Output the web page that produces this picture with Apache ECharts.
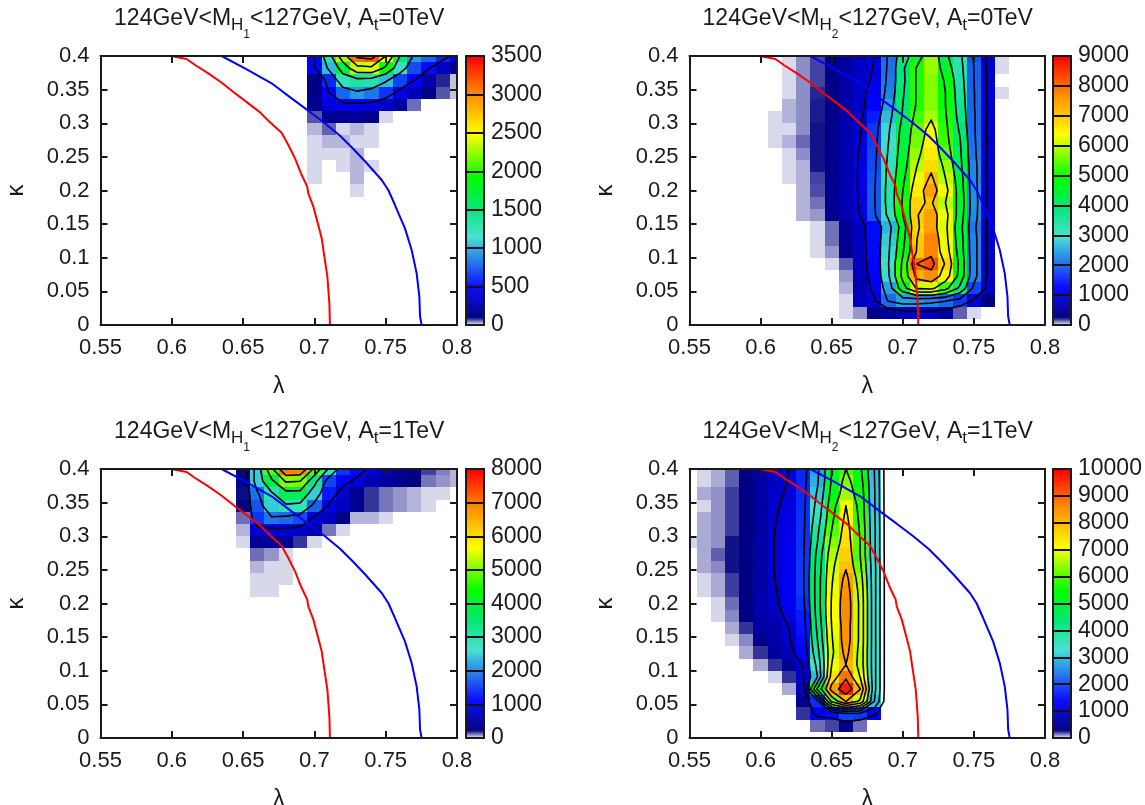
<!DOCTYPE html>
<html>
<head>
<meta charset="utf-8">
<style>
	html, body { margin: 0; padding: 0; background: #fff; }
	#chart { width: 1145px; height: 805px; }
</style>
<script src="https://cdn.jsdelivr.net/npm/echarts@6/dist/echarts.min.js"></script>
</head>
<body>
<div id="chart"></div>
<script>
// every row is [kappa row index, first lambda column, counts...]
// column i is lambda = 0.55 + 0.01 i, row k is kappa = k * 0.4 / 22
const h1At0Rows = [
	[22, 15, 500, 1300, 2300, 3100, 3200, 2500, 1500, 950, 800, 600, 420],
	[21, 15, 480, 1050, 1700, 2350, 2400, 1900, 1200, 720, 520, 300, 180],
	[20, 15, 120, 620, 1250, 1350, 1300, 1050, 700, 500, 230, 90, 25],
	[19, 15, 130, 490, 800, 950, 850, 650, 420, 280, 140, 70, 25],
	[18, 15, 130, 380, 430, 430, 400, 320, 200, 60],
	[17, 15, 70, 170, 180, 180, 130, 16],
	[16, 15, 30, 65, 16, 30, 16],
	[15, 15, 16, 30, 30, 16, 16],
	[14, 15, 16, 16, 16, 30],
	[13, 15, 16, 0, 16, 30, 16],
	[12, 15, 16, 0, 0, 30],
	[11, 18, 16],
]
const h2At0Rows = [
	[22, 7, 40, 120, 200, 300, 550, 780, 1000, 2100, 3600, 4500, 5800, 4200, 3200, 1900, 800, 40],
	[21, 7, 40, 120, 200, 320, 550, 800, 1030, 2150, 3850, 5100, 5800, 4550, 3300, 2000, 850, 40],
	[20, 7, 40, 120, 200, 320, 560, 820, 1080, 2200, 3800, 5100, 5700, 4900, 3400, 2000, 880],
	[19, 7, 40, 120, 230, 340, 580, 850, 1200, 2300, 3900, 5100, 5700, 5000, 3500, 2050, 900, 40],
	[18, 7, 80, 120, 240, 350, 600, 880, 1300, 2500, 4000, 5100, 5700, 5000, 3600, 2050, 900],
	[17, 6, 40, 80, 120, 240, 350, 620, 900, 1500, 2700, 4100, 5300, 5900, 5100, 3700, 2100, 900],
	[16, 6, 40, 40, 120, 250, 360, 640, 950, 1700, 2900, 4300, 5500, 6300, 5200, 3900, 2100, 880],
	[15, 6, 40, 80, 160, 250, 360, 640, 1000, 1750, 3000, 4400, 5600, 6500, 5300, 4100, 2150, 880],
	[14, 7, 40, 120, 250, 360, 650, 1050, 1800, 3100, 4500, 5800, 6600, 5500, 4200, 2200, 900],
	[13, 7, 40, 80, 250, 380, 660, 1070, 1850, 3200, 4600, 6000, 6800, 5800, 4300, 2300, 900],
	[12, 7, 40, 80, 200, 380, 670, 1080, 1900, 3250, 4800, 6300, 7150, 6000, 4500, 2300, 900],
	[11, 8, 80, 190, 390, 680, 1080, 1950, 3300, 5000, 6600, 7500, 6300, 4600, 2350, 900],
	[10, 8, 80, 150, 400, 680, 1050, 1950, 3300, 5100, 6870, 7100, 6000, 4700, 2400, 900],
	[9, 8, 80, 110, 400, 650, 1020, 1900, 3200, 5000, 6950, 7500, 6300, 4600, 2350, 900],
	[8, 9, 40, 150, 450, 800, 1350, 2650, 4500, 6900, 7500, 6200, 4400, 2200, 850],
	[7, 9, 40, 150, 430, 780, 1350, 2800, 4700, 7000, 7800, 6300, 4500, 2300, 850],
	[6, 9, 40, 110, 400, 760, 1350, 2900, 4900, 7100, 7800, 6500, 4600, 2300, 850],
	[5, 10, 40, 170, 740, 1300, 3000, 5200, 8020, 8300, 6900, 4800, 2300, 850],
	[4, 11, 110, 700, 1250, 2900, 5300, 7300, 7700, 6500, 4700, 2300, 850],
	[3, 11, 80, 620, 1150, 2500, 4600, 6100, 6200, 5300, 3800, 1800, 800],
	[2, 11, 40, 800, 950, 2100, 2500, 2450, 2300, 2100, 1700, 900, 280],
	[1, 11, 40, 110, 350, 500, 700, 850, 800, 500, 170, 40],
]
const h1At1Rows = [
	[22, 10, 300, 2500, 4800, 7000, 6900, 4800, 2900, 1500, 1200, 900, 600, 350, 280, 180, 120, 70],
	[21, 10, 350, 2500, 3800, 5100, 5000, 3300, 1600, 1150, 900, 600, 500, 350, 240, 130, 100, 70],
	[20, 10, 230, 1900, 2900, 3700, 3700, 2500, 1300, 800, 350, 190, 130, 100, 70, 37, 37],
	[19, 10, 240, 1700, 2500, 2900, 2800, 1800, 950, 700, 350, 190, 130, 100, 70, 37],
	[18, 10, 136, 1500, 1950, 1850, 1650, 900, 700, 300, 70, 70, 37],
	[17, 10, 70, 800, 850, 850, 750, 500, 130, 37],
	[16, 10, 37, 400, 400, 350, 190, 37],
	[15, 11, 136, 100, 37],
	[14, 11, 70, 37, 37],
	[13, 11, 37, 37, 37],
	[12, 11, 37, 37],
]
const h2At1Rows = [
	[22, 1, 48, 100, 190, 340, 600, 850, 1000, 1750, 2800, 5000, 6000, 5200, 3000],
	[21, 1, 48, 100, 190, 340, 600, 900, 1020, 1750, 2900, 5100, 6300, 5400, 3050],
	[20, 1, 100, 130, 230, 340, 600, 920, 1050, 1780, 3100, 5300, 6500, 5600, 3100],
	[19, 1, 48, 130, 230, 340, 600, 950, 1100, 1800, 3300, 5600, 7000, 5700, 3100],
	[18, 1, 100, 130, 230, 340, 600, 980, 1150, 1820, 3500, 5800, 7200, 5800, 3150],
	[17, 1, 100, 130, 230, 340, 600, 1000, 1200, 1830, 3800, 6000, 7400, 5900, 3200],
	[16, 0, 48, 100, 130, 280, 340, 620, 1020, 1250, 1850, 4000, 6300, 7500, 6000, 3200],
	[15, 1, 100, 190, 280, 340, 620, 1020, 1300, 1880, 4300, 6600, 7700, 6000, 3200],
	[14, 1, 100, 140, 280, 340, 620, 1020, 1300, 1900, 4400, 6800, 7900, 6200, 3300],
	[13, 1, 48, 100, 230, 340, 620, 1000, 1320, 1900, 4500, 6900, 8300, 6500, 3300],
	[12, 1, 48, 100, 230, 340, 620, 950, 1320, 1900, 4500, 7000, 8500, 6700, 3300],
	[11, 2, 48, 170, 340, 700, 900, 1300, 1800, 4500, 7100, 8600, 6800, 3300],
	[10, 2, 48, 140, 340, 650, 800, 1150, 1650, 4400, 7100, 8600, 6800, 3300],
	[9, 3, 100, 240, 600, 700, 1000, 1600, 4200, 7000, 8500, 6800, 3300],
	[8, 3, 48, 140, 380, 650, 950, 1500, 4000, 6900, 8500, 6800, 3300],
	[7, 4, 100, 240, 550, 800, 1400, 3700, 6800, 8300, 6700, 3300],
	[6, 5, 100, 240, 500, 1050, 3300, 7000, 8000, 6700, 3300],
	[5, 6, 48, 240, 950, 3000, 7450, 8840, 6970, 3300],
	[4, 7, 100, 800, 5200, 8350, 9700, 8030, 3300],
	[3, 8, 450, 1800, 6200, 8030, 6800, 3000],
	[2, 8, 240, 1300, 1500, 2000, 1900, 1200],
	[1, 9, 170, 220, 450, 170],
]

const h1At0Levels = [500, 1000, 1500, 2000, 2500, 3000]
const h2At0Levels = [1000, 2000, 3000, 4000, 5000, 6000, 7000, 8000]
const h1At1Levels = [1000, 2000, 3000, 4000, 5000, 6000, 7000]
const h2At1Levels = [1000, 2000, 3000, 4000, 5000, 6000, 7000, 8000, 9000]

const redLambda = [0.6, 0.6022, 0.6104, 0.6163, 0.6256, 0.635, 0.6443, 0.6537, 0.6619, 0.6677, 0.677, 0.6817, 0.6864, 0.6911, 0.695, 0.6957, 0.6993, 0.7021, 0.7051, 0.707, 0.7091, 0.7105, 0.7109]
const redKappa = [0.4, 0.399, 0.3955, 0.3866, 0.3742, 0.3603, 0.3445, 0.3296, 0.3162, 0.3038, 0.286, 0.2677, 0.2478, 0.223, 0.2057, 0.1958, 0.176, 0.1536, 0.1289, 0.1016, 0.0719, 0.0322, 0]
const blueLambda = [0.6349, 0.6513, 0.67, 0.684, 0.6957, 0.7074, 0.718, 0.727, 0.7358, 0.7472, 0.7518, 0.7565, 0.7635, 0.7682, 0.7717, 0.7736, 0.7741, 0.7752]
const blueKappa = [0.4, 0.3817, 0.3594, 0.337, 0.3187, 0.2999, 0.2815, 0.2625, 0.2428, 0.2156, 0.2007, 0.1784, 0.1437, 0.1115, 0.0768, 0.0421, 0.0124, 0]

const paletteStops = [
	[0, 255, 255, 255], [0.03, 0, 0, 128], [0.143, 0, 0, 255], [0.286, 40, 170, 225], [0.33, 64, 224, 208],
	[0.43, 0, 230, 120], [0.55, 0, 255, 0], [0.71, 255, 255, 0], [0.86, 255, 140, 0], [1, 255, 0, 0],
]

const panels = [
	{ rows: h1At0Rows, levels: h1At0Levels, max: 3500, step: 500, name: "H", sub: "1", at: "0", left: 100.5, width: 356.5, top: 56, bar: 466 },
	{ rows: h2At0Rows, levels: h2At0Levels, max: 9000, step: 1000, name: "H", sub: "2", at: "0", left: 689.5, width: 355.5, top: 56, bar: 1053 },
	{ rows: h1At1Rows, levels: h1At1Levels, max: 8000, step: 1000, name: "H", sub: "1", at: "1", left: 100.5, width: 356.5, top: 469, bar: 466 },
	{ rows: h2At1Rows, levels: h2At1Levels, max: 10000, step: 1000, name: "H", sub: "2", at: "1", left: 689.5, width: 355.5, top: 469, bar: 1053 },
]

const PLOT_H = 269
const BAR_W = 18
const KAPPA_BIN = 0.4 / 22
const LAMBDA_BIN = 0.01
const FONT = "'Liberation Sans', Arial, sans-serif"
const INK = "#1a1a1a"

function paletteColor(f) {
	f = Math.max(0, Math.min(1, f))
	for (let i = 1; i < paletteStops.length; i++) {
		const a = paletteStops[i - 1]
		const b = paletteStops[i]
		if (f <= b[0]) {
			const t = (f - a[0]) / (b[0] - a[0])
			const mix = (n) => Math.round(a[n] + (b[n] - a[n]) * t)
			return "rgb(" + mix(1) + "," + mix(2) + "," + mix(3) + ")"
		}
	}
	return "rgb(255,0,0)"
}

function toMatrix(rows) {
	const m = []
	for (let k = 0; k <= 22; k++) m.push(new Array(26).fill(0))
	rows.forEach((r) => {
		for (let n = 2; n < r.length; n++) m[r[0]][r[1] + n - 2] = r[n]
	})
	return m
}

// plain marching squares over the cell centres
function contourSegments(m, levels) {
	const out = []
	const cross = (a, b, L) => (L - a) / (b - a)
	levels.forEach((L) => {
		for (let k = 0; k < 22; k++) {
			for (let i = 0; i < 25; i++) {
				const v00 = m[k][i], v10 = m[k][i + 1], v11 = m[k + 1][i + 1], v01 = m[k + 1][i]
				const hits = []
				if ((v00 >= L) !== (v10 >= L)) hits.push([i + cross(v00, v10, L), k])
				if ((v10 >= L) !== (v11 >= L)) hits.push([i + 1, k + cross(v10, v11, L)])
				if ((v01 >= L) !== (v11 >= L)) hits.push([i + cross(v01, v11, L), k + 1])
				if ((v00 >= L) !== (v01 >= L)) hits.push([i, k + cross(v00, v01, L)])
				for (let h = 0; h + 1 < hits.length; h += 2) {
					out.push(
						[0.55 + hits[h][0] * LAMBDA_BIN, hits[h][1] * KAPPA_BIN],
						[0.55 + hits[h + 1][0] * LAMBDA_BIN, hits[h + 1][1] * KAPPA_BIN],
						[null, null]
					)
				}
			}
		}
	})
	return out
}

function curvePoints(xs, ys) {
	return xs.map((x, n) => [x, ys[n]])
}

const grids = []
const xAxes = []
const yAxes = []
const series = []
const titles = []

function frameAxis(gridIndex, position, extra) {
	return Object.assign({
		gridIndex,
		position,
		type: "value",
		z: 10,
		splitLine: { show: false },
		axisLine: { show: true, onZero: false, lineStyle: { color: INK, width: 2 } },
		axisTick: { show: true, inside: true, length: 7, lineStyle: { color: INK, width: 2 } },
		axisLabel: { show: false },
	}, extra)
}

const tickText = { show: true, color: INK, fontSize: 22, fontFamily: FONT, formatter: (v) => String(v) }

panels.forEach((p) => {
	const matrix = toMatrix(p.rows)
	const plotGrid = grids.length
	grids.push({ left: p.left, top: p.top, width: p.width, height: PLOT_H, outerBoundsMode: "none" })
	grids.push({ left: p.bar, top: p.top, width: BAR_W, height: PLOT_H, outerBoundsMode: "none" })
	const barGrid = plotGrid + 1

	const xIndex = xAxes.length
	const yIndex = yAxes.length
	const lambdaScale = { min: 0.55, max: 0.8, interval: 0.05 }
	const kappaScale = { min: 0, max: 0.4, interval: 0.05 }
	xAxes.push(frameAxis(plotGrid, "bottom", Object.assign({}, lambdaScale, {
		name: "λ", nameLocation: "middle", nameGap: 50,
		nameMoveOverlap: false,
		nameTextStyle: { color: INK, fontSize: 23, fontFamily: FONT },
		axisLabel: Object.assign({}, tickText, { margin: 12 }),
	})))
	xAxes.push(frameAxis(plotGrid, "top", lambdaScale))
	yAxes.push(frameAxis(plotGrid, "left", Object.assign({}, kappaScale, {
		name: "κ", nameLocation: "middle", nameGap: 72,
		nameMoveOverlap: false,
		nameTextStyle: { color: INK, fontSize: 24, fontFamily: FONT },
		axisLabel: Object.assign({}, tickText, { margin: 11, padding: [6, 0, 0, 0] }),
	})))
	yAxes.push(frameAxis(plotGrid, "right", kappaScale))

	const barX = xAxes.length
	const barY = yAxes.length
	const noTick = { axisTick: { show: false } }
	xAxes.push(frameAxis(barGrid, "bottom", Object.assign({ min: 0, max: 1 }, noTick)))
	xAxes.push(frameAxis(barGrid, "top", Object.assign({ min: 0, max: 1 }, noTick)))
	yAxes.push(frameAxis(barGrid, "left", Object.assign({ min: 0, max: p.max, interval: p.step }, noTick)))
	yAxes.push(frameAxis(barGrid, "right", {
		min: 0, max: p.max, interval: p.step,
		axisTick: { show: false },
		splitLine: { show: true, lineStyle: { color: "#111", width: 2 } },
		axisLabel: Object.assign({}, tickText, { margin: 7, fontSize: 23, padding: [8, 0, 0, 0] }),
	}))

	const cells = []
	matrix.forEach((row, k) => row.forEach((v, i) => {
		if (v > 0) cells.push([0.55 + i * LAMBDA_BIN, k * KAPPA_BIN, v])
	}))
	series.push({
		type: "custom",
		xAxisIndex: xIndex,
		yAxisIndex: yIndex,
		clip: true,
		silent: true,
		animation: false,
		z: 2,
		encode: { x: 0, y: 1 },
		data: cells,
		renderItem(params, api) {
			const x = api.value(0), y = api.value(1)
			const a = api.coord([x - LAMBDA_BIN / 2, y + KAPPA_BIN / 2])
			const b = api.coord([x + LAMBDA_BIN / 2, y - KAPPA_BIN / 2])
			const x0 = Math.round(a[0]), y0 = Math.round(a[1])
			return {
				type: "rect",
				shape: { x: x0, y: y0, width: Math.round(b[0]) - x0, height: Math.round(b[1]) - y0 },
				style: { fill: paletteColor(api.value(2) / p.max) },
			}
		},
	})
	series.push({
		type: "line",
		xAxisIndex: xIndex,
		yAxisIndex: yIndex,
		data: contourSegments(matrix, p.levels),
		showSymbol: false,
		silent: true,
		animation: false,
		connectNulls: false,
		z: 3,
		lineStyle: { color: "#000", width: 1.6, cap: "round", join: "round" },
	})
	series.push({
		type: "line",
		xAxisIndex: xIndex,
		yAxisIndex: yIndex,
		data: curvePoints(redLambda, redKappa),
		showSymbol: false,
		silent: true,
		animation: false,
		z: 4,
		lineStyle: { color: "#ff0000", width: 2 },
	})
	series.push({
		type: "line",
		xAxisIndex: xIndex,
		yAxisIndex: yIndex,
		data: curvePoints(blueLambda, blueKappa),
		showSymbol: false,
		silent: true,
		animation: false,
		z: 4,
		lineStyle: { color: "#0000ff", width: 2 },
	})

	const barSlices = []
	for (let n = 0; n < 270; n++) barSlices.push([n * p.max / 270, (n + 1) * p.max / 270])
	series.push({
		type: "custom",
		xAxisIndex: barX,
		yAxisIndex: barY,
		clip: true,
		silent: true,
		animation: false,
		z: 2,
		encode: { y: 0 },
		data: barSlices,
		renderItem(params, api) {
			const lo = api.value(0), hi = api.value(1)
			const a = api.coord([0, hi])
			const b = api.coord([1, lo])
			return {
				type: "rect",
				shape: { x: a[0], y: a[1], width: b[0] - a[0], height: b[1] - a[1] + 0.5 },
				style: { fill: paletteColor((lo + hi) / 2 / p.max) },
			}
		},
	})

	titles.push({
		text: "{a|124GeV<M}{b|" + p.name + "}{c|" + p.sub + "}{a|<127GeV, A}{d|t}{a|=" + p.at + "TeV}",
		left: p.left + p.width / 2 - 4.5,
		top: p.top - 54,
		textAlign: "center",
		textStyle: {
			fontWeight: "normal",
			rich: {
				a: { fontFamily: FONT, fontSize: 23, fontWeight: "normal", color: INK, lineHeight: 26, verticalAlign: "top" },
				b: { fontFamily: FONT, fontSize: 17, fontWeight: "normal", color: INK, lineHeight: 17, verticalAlign: "bottom", padding: [0, 0, 7, 0] },
				c: { fontFamily: FONT, fontSize: 12, fontWeight: "normal", color: INK, lineHeight: 34, verticalAlign: "bottom", padding: [0, 0, 0, 0] },
				d: { fontFamily: FONT, fontSize: 17, fontWeight: "normal", color: INK, lineHeight: 17, verticalAlign: "bottom", padding: [0, 0, 7, 0] },
			},
		},
	})
})

const chart = echarts.init(document.getElementById("chart"), null, { renderer: "canvas" })
chart.setOption({
	backgroundColor: "#fff",
	animation: false,
	title: titles,
	grid: grids,
	xAxis: xAxes,
	yAxis: yAxes,
	series,
})
</script>
</body>
</html>
